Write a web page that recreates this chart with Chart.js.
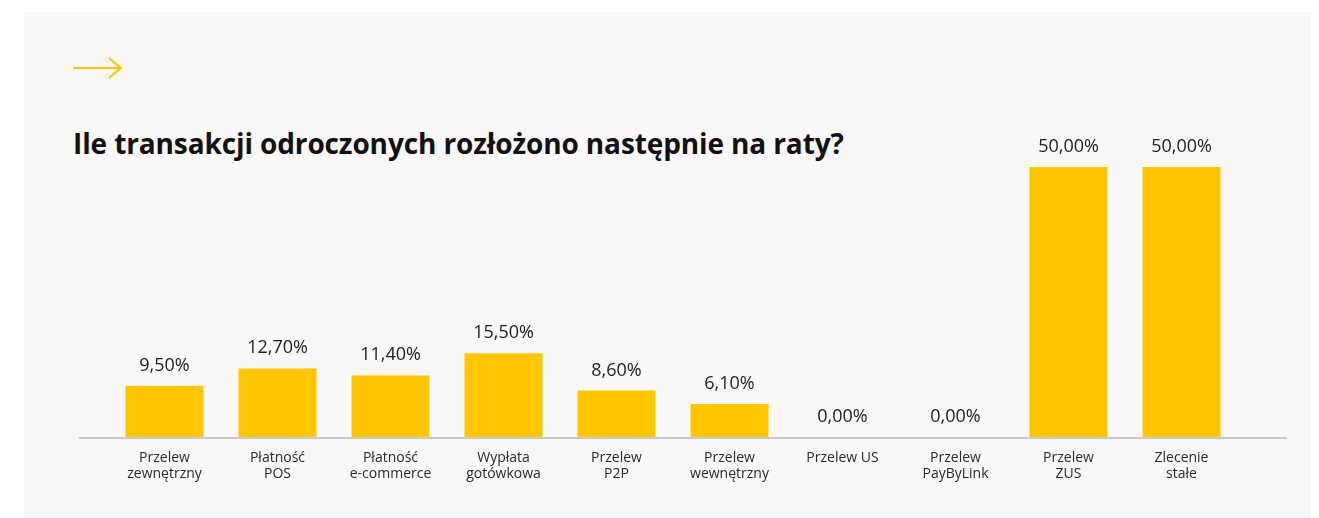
<!DOCTYPE html>
<html lang="pl">
<head>
<meta charset="utf-8">
<title>Ile transakcji odroczonych rozłożono następnie na raty?</title>
<script src="https://cdn.jsdelivr.net/npm/chart.js@4"></script>
<style>
  html, body { margin: 0; padding: 0; background: #ffffff; }
  body { width: 1319px; height: 518px; position: relative; overflow: hidden; font-family: "Open Sans", sans-serif; }
  .panel { position: absolute; left: 24px; top: 12px; width: 1287px; height: 506px; background: #f9f8f7; }
  .arrow { position: absolute; left: 72px; top: 56px; }
  h1 { position: absolute; left: 73px; top: 124px; margin: 0; font-size: 28px; font-weight: 700; color: #111; letter-spacing: -0.12px; white-space: nowrap; }
  #wrap { position: absolute; left: 0; top: 0; width: 1319px; height: 518px; }
</style>
</head>
<body>
<div class="panel"></div>
<svg class="arrow" width="52" height="24" viewBox="0 0 52 24">
  <path d="M1 12 H49 M37 2 L49 12 L37 22" fill="none" stroke="#ffc600" stroke-width="2.2"/>
</svg>
<h1>Ile transakcji odroczonych rozłożono następnie na raty?</h1>
<div id="wrap"><canvas id="chart"></canvas></div>
<script>
// Categories (multi-line labels) and share of deferred transactions later split into instalments, in %
const categories = [
  ['Przelew', 'zewnętrzny'],
  ['Płatność', 'POS'],
  ['Płatność', 'e-commerce'],
  ['Wypłata', 'gotówkowa'],
  ['Przelew', 'P2P'],
  ['Przelew', 'wewnętrzny'],
  ['Przelew US'],
  ['Przelew', 'PayByLink'],
  ['Przelew', 'ZUS'],
  ['Zlecenie', 'stałe']
];
const installmentShare = [9.5, 12.7, 11.4, 15.5, 8.6, 6.1, 0, 0, 50, 50];

const fmtPct = v => v.toFixed(2).replace('.', ',') + '%';

// Grey baseline running under the bars, a little wider than the plot area
const baselinePlugin = {
  id: 'baseline',
  beforeDatasetsDraw(chart) {
    const { ctx, chartArea, scales } = chart;
    const y = scales.y.getPixelForValue(0) + 1;
    ctx.save();
    ctx.strokeStyle = '#c9c9c9';
    ctx.lineWidth = 2;
    ctx.beginPath();
    ctx.moveTo(chartArea.left - 29, y);
    ctx.lineTo(chartArea.right + 49, y);
    ctx.stroke();
    ctx.restore();
  }
};

// Percentage label above every bar
const valueLabelPlugin = {
  id: 'valueLabels',
  afterDatasetsDraw(chart) {
    const { ctx } = chart;
    const meta = chart.getDatasetMeta(0);
    const data = chart.data.datasets[0].data;
    ctx.save();
    ctx.font = '18px "Open Sans", sans-serif';
    ctx.fillStyle = '#1e1e1e';
    ctx.textAlign = 'center';
    ctx.textBaseline = 'alphabetic';
    meta.data.forEach((bar, i) => {
      ctx.fillText(fmtPct(data[i]), bar.x, bar.y - 15);
    });
    ctx.restore();
  }
};

new Chart(document.getElementById('chart'), {
  type: 'bar',
  data: {
    labels: categories,
    datasets: [{
      data: installmentShare,
      backgroundColor: '#ffc600',
      borderWidth: 0,
      barPercentage: 0.69,
      categoryPercentage: 1
    }]
  },
  options: {
    responsive: true,
    maintainAspectRatio: false,
    animation: false,
    layout: { padding: { left: 108, right: 81, top: 113, bottom: 21 } },
    plugins: { legend: { display: false }, tooltip: { enabled: false }, title: { display: false } },
    scales: {
      x: {
        grid: { display: false, drawTicks: false },
        border: { display: false },
        ticks: {
          color: '#2a2a2a',
          font: { family: '"Open Sans", sans-serif', size: 14, lineHeight: 1.15 },
          padding: 13,
          maxRotation: 0,
          autoSkip: false
        },
        afterFit(scale) { scale.height = 60; }
      },
      y: {
        display: false,
        min: 0,
        max: 60
      }
    }
  },
  plugins: [baselinePlugin, valueLabelPlugin]
});
</script>
</body>
</html>
